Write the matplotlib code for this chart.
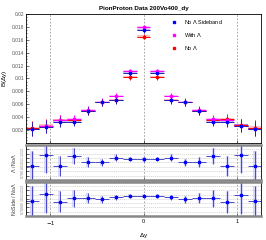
import numpy as np
import matplotlib
matplotlib.use("Agg")
import matplotlib.pyplot as plt
from matplotlib.lines import Line2D

plt.rcParams['font.family'] = ['Liberation Sans', 'DejaVu Sans']

# bin centres in delta y
dy = [-1.2, -1.05, -0.9, -0.75, -0.6, -0.45, -0.3, -0.15, 0.0,
      0.15, 0.3, 0.45, 0.6, 0.75, 0.9, 1.05, 1.2]
half_w = 0.075

# B(dy) for the three samples
b_side = [0.0022, 0.0025, 0.0033, 0.0033, 0.0050, 0.0063, 0.0066, 0.0108, 0.0175,
          0.0109, 0.0066, 0.0063, 0.0050, 0.0033, 0.0033, 0.0027, 0.0022]
b_with = [0.0022, 0.0026, 0.0036, 0.0037, 0.0051, 0.0064, 0.0073, 0.0111, 0.0179,
          0.0111, 0.0073, 0.0064, 0.0051, 0.0038, 0.0035, 0.0027, 0.0022]
b_no = [0.0023, 0.0027, 0.0035, 0.0035, 0.0049, 0.0063, 0.0067, 0.0102, 0.0165,
        0.0102, 0.0067, 0.0063, 0.0049, 0.0035, 0.0037, 0.0028, 0.0024]
b_err = [0.0011, 0.0010, 0.0008, 0.0006, 0.0006, 0.0005, 0.0005, 0.0004, 0.0004,
         0.0004, 0.0005, 0.0005, 0.0006, 0.0006, 0.0008, 0.0010, 0.0011]
b_sys = [0.0002, 0.0002, 0.00015, 0.00015, 0.00012, 0.00012, 0.00012, 0.00015, 0.0002,
         0.00015, 0.00012, 0.00012, 0.00012, 0.00015, 0.00015, 0.0002, 0.0002]

# ratios
r_lam = [0.92, 1.17, 0.92, 1.155, 1.01, 1.005, 1.11, 1.08, 1.07,
         1.08, 1.11, 1.005, 1.01, 1.155, 0.92, 1.17, 0.92]
r_lam_err = [0.35, 0.40, 0.22, 0.18, 0.12, 0.08, 0.08, 0.05, 0.05,
             0.05, 0.08, 0.08, 0.12, 0.18, 0.22, 0.40, 0.35]
r_side = [0.955, 1.11, 0.94, 1.015, 1.015, 0.995, 1.04, 1.075, 1.07,
          1.07, 1.04, 0.995, 1.015, 1.015, 0.93, 1.09, 0.955]
r_side_err = [0.35, 0.45, 0.25, 0.20, 0.12, 0.08, 0.06, 0.05, 0.04,
              0.05, 0.06, 0.08, 0.12, 0.20, 0.25, 0.45, 0.35]

fig = plt.figure(figsize=(2.66, 2.4), dpi=100)
ax = fig.add_axes([0.098, 0.404, 0.883, 0.538])
ax_r1 = fig.add_axes([0.098, 0.25, 0.883, 0.146])
ax_r2 = fig.add_axes([0.098, 0.10, 0.883, 0.142])

xmin, xmax = -1.26, 1.26
grey = '#888888'

# main pad
for yv, col in [(b_no, 'red'), (b_with, 'magenta'), (b_side, 'blue')]:
    yv = np.array(yv)
    ax.bar(dy, 2 * np.array(b_sys), width=2 * half_w, bottom=yv - np.array(b_sys),
           color=col, alpha=0.25, linewidth=0)
    ax.errorbar(dy, yv, xerr=half_w, yerr=b_err, fmt='s', ms=1.7, color=col,
                ecolor='#2020b0' if col == 'blue' else col, elinewidth=0.7,
                capsize=0)

for xv in [-1, 0, 1]:
    for a in (ax, ax_r1, ax_r2):
        a.axvline(xv, color='#999999', ls=(0, (2, 2)), lw=0.6, zorder=0)

ax.set_xlim(xmin, xmax)
ax.set_ylim(0, 0.02)
yt = np.round(np.arange(0.002, 0.0201, 0.002), 3)
ax.set_yticks(yt)
ax.set_yticklabels(['%g' % v for v in yt])
ax.set_yticks(np.arange(0, 0.0201, 0.0005), minor=True)
ax.set_xticks([-1, 0, 1])
ax.set_xticklabels([])
ax.tick_params(axis='both', which='both', direction='in', labelsize=3.5,
               labelcolor='#555555', length=2, width=0.4, pad=1.5)
ax.tick_params(axis='y', which='minor', length=1)
ax.set_ylabel('B($\\Delta$y)', fontsize=4.5, labelpad=2)
for s in ax.spines.values():
    s.set_linewidth(0.6)
ax.set_title('PionProton Data 200Vo400_dy', fontsize=4.5, fontweight='bold', pad=3)

handles = [Line2D([], [], ls='none', marker='s', ms=2, color=c)
           for c in ['blue', 'magenta', 'red']]
labels = ['No $\\Lambda$ Sideband', 'With $\\Lambda$', 'No $\\Lambda$']
ax.legend(handles, labels, loc='upper left', bbox_to_anchor=(0.6, 1.0),
          frameon=False, fontsize=4, handlelength=1.0, handletextpad=1.4,
          labelspacing=0.9, borderaxespad=0.3)

# ratio pads
for a, rv, re, lab in [(ax_r1, r_lam, r_lam_err, '$\\Lambda$ / No$\\Lambda$'),
                       (ax_r2, r_side, r_side_err, 'NoSide / No$\\Lambda$')]:
    rv = np.array(rv)
    re = np.array(re)
    a.bar(dy, 2 * re, width=0.04, bottom=rv - re, color='blue', alpha=0.15, linewidth=0)
    a.errorbar(dy, rv, xerr=half_w, yerr=re, fmt='s', ms=1.7, color='blue',
               ecolor='#3030c0', elinewidth=0.6, capsize=0)
    a.set_xlim(xmin, xmax)
    a.set_ylim(0.6, 1.4)
    a.set_yticks(np.arange(0.7, 1.35, 0.1))
    a.set_yticklabels(['%.1f' % v for v in np.arange(0.7, 1.35, 0.1)], rotation=90,
                      va='center')
    a.grid(axis='y', color='#bbbbbb', ls=(0, (2, 1.5)), lw=0.4)
    a.set_xticks([-1, 0, 1])
    a.tick_params(axis='both', direction='in', labelsize=2.5, labelcolor='#888888',
                  length=2, width=0.4, pad=1)
    a.set_ylabel(lab, fontsize=3.8, labelpad=2, color='#333333')
    for k, s in a.spines.items():
        s.set_linewidth(0.6)
    a.spines['top'].set_color(grey)
    a.spines['top'].set_linewidth(1.8)
    a.spines['bottom'].set_color(grey)
    a.spines['bottom'].set_linewidth(1.8)

ax_r1.set_xticklabels([])
ax_r2.set_xticklabels(['$-$1', '0', '1'])
ax_r2.tick_params(axis='x', labelsize=4, labelcolor='black', pad=2)
ax_r2.set_xlabel('$\\Delta$y', fontsize=4.5, labelpad=3)

fig.savefig('out.png', dpi=100)
